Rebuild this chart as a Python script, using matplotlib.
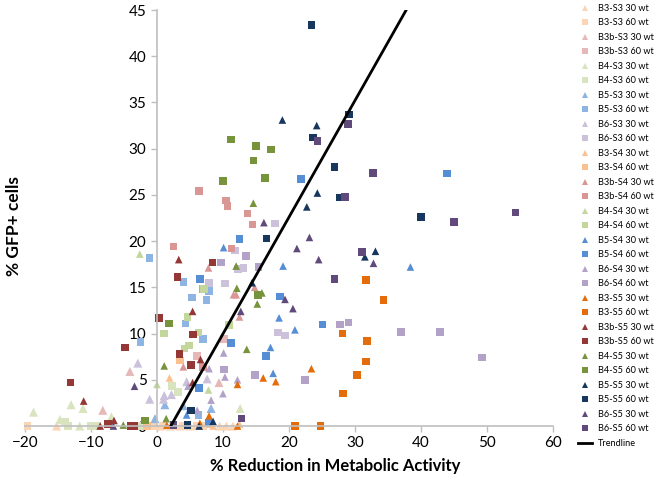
import matplotlib
matplotlib.use("Agg")
import matplotlib.pyplot as plt
from matplotlib.lines import Line2D

plt.rcParams['font.family'] = ['Lato', 'DejaVu Sans']

# (x = % reduction in metabolic activity, y = % GFP+ cells)
b3_s3_30 = [(-15.2, 0), (0.5, 0), (2.0, 0), (3.5, 0), (5.0, 0), (9.5, 0), (10.5, 0), (11.5, 0)]
b3_s3_60 = [(-19.6, 0), (-0.5, 0), (1.0, 0), (2.5, 0), (4.0, 0), (6.0, 0), (7.0, 0)]
b3b_s3_30 = [(-8.2, 1.7), (-4.1, 5.9), (9.4, 4.7)]
b3b_s3_60 = [(6.1, 7.6), (10.2, 9.4)]
b4_s3_30 = [(-18.7, 1.5), (-13.0, 2.3), (-11.2, 1.9), (-14.7, 0.7), (-11.7, 0), (-6.9, 1.0), (12.6, 1.9)]
b4_s3_60 = [(-13.9, 0.5), (-13.5, 0), (-10.0, 0), (-9.1, 0), (-2.6, 0), (2.3, 4.3), (3.2, 3.7)]
b5_s3_30 = [(1.2, 2.3), (-0.3, 0.8), (4.0, 2.2), (8.2, 1.9)]
b5_s3_60 = [(-1.1, 18.2), (4.0, 15.6), (6.9, 14.8), (7.9, 14.6), (5.3, 13.9), (7.5, 13.6),
            (4.3, 11.1), (7.0, 9.4), (-2.5, 9.1), (6.3, 1.2)]
b6_s3_30 = [(-2.9, 6.8), (1.1, 3.3), (1.0, 2.9), (2.2, 3.4), (4.5, 4.8), (7.6, 5.1), (-1.1, 2.9)]
b6_s3_60 = [(17.9, 21.9), (11.8, 19.0), (12.3, 17.0), (13.1, 17.1), (7.9, 15.5), (10.3, 15.4),
            (18.3, 10.1), (19.4, 9.8)]

b3_s4_30 = [(1.9, 5.2), (8.5, 0), (12.5, 0.2)]
b3_s4_60 = [(3.5, 7.1), (8.0, 0.2), (-1.5, 0)]
b3b_s4_30 = [(7.8, 17.1), (14.8, 15.0), (11.6, 14.2), (12.0, 14.2), (12.5, 11.8), (4.0, 6.4)]
b3b_s4_60 = [(6.4, 25.4), (10.5, 24.4), (10.7, 23.8), (13.7, 23.0), (14.5, 21.8), (2.5, 19.4),
             (11.3, 19.2), (7.0, 6.4)]
b4_s4_30 = [(-2.6, 18.6), (0.0, 4.5), (7.8, 3.9)]
b4_s4_60 = [(1.1, 10.0), (6.3, 10.1), (4.6, 11.8), (10.9, 10.9), (4.2, 8.4), (4.9, 8.7), (7.1, 14.8)]
b5_s4_30 = [(10.1, 19.3), (19.1, 17.3), (38.4, 17.2), (18.5, 11.7), (20.9, 10.4), (17.2, 8.5),
            (17.6, 5.7), (4.5, 1.2)]
b5_s4_60 = [(43.9, 27.3), (21.8, 26.7), (12.5, 20.2), (18.6, 14.0), (25.1, 11.0), (11.2, 9.0),
            (16.5, 7.6), (6.4, 4.1), (7.8, 0.4), (6.5, 15.9)]
b6_s4_30 = [(7.9, 6.2), (10.1, 7.9), (10.3, 5.3), (12.2, 5.0), (4.7, 4.3), (8.2, 2.8), (10.0, 3.5), (6.1, 1.7)]
b6_s4_60 = [(9.7, 17.7), (13.5, 18.4), (15.4, 17.2), (27.7, 11.0), (29.0, 11.2), (10.2, 6.1),
            (22.4, 5.0), (14.9, 5.5), (37.0, 10.2), (42.9, 10.2), (49.2, 7.4)]

b3_s5_30 = [(23.4, 6.2), (16.1, 5.2), (18.0, 4.8), (12.2, 4.5), (7.9, 1.1), (1.5, 0.1), (12.2, 0), (6.5, 0.3)]
b3_s5_60 = [(31.7, 15.8), (34.3, 13.6), (28.1, 10.0), (31.8, 9.2), (31.7, 7.0), (30.3, 5.5),
            (28.2, 3.5), (20.9, 0), (24.8, 0)]
b3b_s5_30 = [(3.3, 18.0), (5.4, 12.4), (6.6, 7.2), (5.4, 4.7), (-11.1, 2.7), (-8.6, 0), (-6.5, 0.6)]
b3b_s5_60 = [(0.35, 11.7), (8.4, 17.7), (3.1, 16.1), (5.5, 9.9), (3.4, 7.8), (5.2, 6.6),
             (-13.1, 4.7), (-4.8, 8.5), (-7.4, 0.2), (-3.9, 0), (-3.5, 0)]
b4_s5_30 = [(14.6, 24.1), (12.0, 17.3), (15.9, 14.4), (12.1, 14.9), (15.2, 13.2), (13.6, 8.3),
            (1.1, 6.5), (1.4, 0.8), (-5.1, 0.1)]
b4_s5_60 = [(11.2, 31.0), (15.0, 30.3), (17.3, 29.9), (14.6, 28.7), (16.4, 26.8), (10.0, 26.5),
            (1.8, 11.1), (-1.8, 0.6), (15.3, 14.2)]
b5_s5_30 = [(19.0, 33.1), (24.2, 32.5), (24.3, 25.2), (22.7, 23.7), (33.1, 18.9), (31.5, 18.3),
            (14.4, 15.5), (8.5, 0.5), (6.4, 0)]
b5_s5_60 = [(23.4, 43.4), (29.1, 33.7), (23.6, 31.2), (26.9, 28.0), (27.7, 24.7), (16.6, 20.3),
            (40.0, 22.6), (5.2, 1.7), (4.6, 0.1)]
b6_s5_30 = [(16.2, 22.0), (23.1, 20.4), (21.2, 19.2), (24.5, 18.0), (32.8, 17.6), (19.4, 13.7),
            (20.6, 12.7), (12.7, 12.4), (-3.4, 4.3), (-6.6, 0)]
b6_s5_60 = [(28.9, 32.7), (24.3, 30.8), (28.5, 24.8), (32.7, 27.4), (31.1, 18.8), (26.9, 15.9),
            (45.0, 22.1), (54.3, 23.1), (12.8, 0.8), (2.5, 0.1)]

# trendline y = slope * x + intercept
trend_slope = 1.262
trend_intercept = -2.65

# series: label, data, colour, marker
series = [
    ("B3-S3 30 wt", b3_s3_30, "#FCD5B5", "^"),
    ("B3-S3 60 wt", b3_s3_60, "#FCD5B5", "s"),
    ("B3b-S3 30 wt", b3b_s3_30, "#E6B9B8", "^"),
    ("B3b-S3 60 wt", b3b_s3_60, "#E6B9B8", "s"),
    ("B4-S3 30 wt", b4_s3_30, "#D7E4BD", "^"),
    ("B4-S3 60 wt", b4_s3_60, "#D7E4BD", "s"),
    ("B5-S3 30 wt", b5_s3_30, "#8EB4E3", "^"),
    ("B5-S3 60 wt", b5_s3_60, "#8EB4E3", "s"),
    ("B6-S3 30 wt", b6_s3_30, "#CCC1DA", "^"),
    ("B6-S3 60 wt", b6_s3_60, "#CCC1DA", "s"),
    ("B3-S4 30 wt", b3_s4_30, "#FAC090", "^"),
    ("B3-S4 60 wt", b3_s4_60, "#FAC090", "s"),
    ("B3b-S4 30 wt", b3b_s4_30, "#D99694", "^"),
    ("B3b-S4 60 wt", b3b_s4_60, "#D99694", "s"),
    ("B4-S4 30 wt", b4_s4_30, "#C3D69B", "^"),
    ("B4-S4 60 wt", b4_s4_60, "#C3D69B", "s"),
    ("B5-S4 30 wt", b5_s4_30, "#558ED5", "^"),
    ("B5-S4 60 wt", b5_s4_60, "#558ED5", "s"),
    ("B6-S4 30 wt", b6_s4_30, "#B3A2C7", "^"),
    ("B6-S4 60 wt", b6_s4_60, "#B3A2C7", "s"),
    ("B3-S5 30 wt", b3_s5_30, "#E46C0A", "^"),
    ("B3-S5 60 wt", b3_s5_60, "#E46C0A", "s"),
    ("B3b-S5 30 wt", b3b_s5_30, "#953735", "^"),
    ("B3b-S5 60 wt", b3b_s5_60, "#953735", "s"),
    ("B4-S5 30 wt", b4_s5_30, "#77933C", "^"),
    ("B4-S5 60 wt", b4_s5_60, "#77933C", "s"),
    ("B5-S5 30 wt", b5_s5_30, "#17375E", "^"),
    ("B5-S5 60 wt", b5_s5_60, "#17375E", "s"),
    ("B6-S5 30 wt", b6_s5_30, "#604A7B", "^"),
    ("B6-S5 60 wt", b6_s5_60, "#604A7B", "s"),
]

fig = plt.figure(figsize=(6.56, 4.88), dpi=100)
ax = fig.add_axes([0.038, 0.127, 0.805, 0.8525])

handles = []
for i, (label, pts, color, marker) in enumerate(series):
    xs = [p[0] for p in pts]
    ys = [p[1] for p in pts]
    light = i < 10
    size = 42 if (light and marker == "^") else 30
    ax.scatter(xs, ys, s=size, marker=marker, color=color, edgecolors="none",
               clip_on=False, zorder=2 + i * 0.01)
    handles.append(Line2D([], [], linestyle="none", marker=marker, color=color,
                          markersize=5, markeredgewidth=0, label=label))

ymin, ymax = 0, 45
x0 = (ymin - trend_intercept) / trend_slope
x1 = (ymax - trend_intercept) / trend_slope
ax.plot([x0, x1], [trend_slope * x0 + trend_intercept, trend_slope * x1 + trend_intercept],
        color="black", linewidth=2, zorder=5)
handles.append(Line2D([], [], color="black", linewidth=2, label="Trendline"))

ax.set_xlim(-20, 60)
ax.set_ylim(ymin, ymax)
ax.set_xticks(range(-20, 61, 10))
ax.set_yticks(range(0, 46, 5))

ax.spines["left"].set_position(("data", 0))
ax.spines["bottom"].set_position(("data", 0))
ax.spines["right"].set_visible(False)
ax.spines["top"].set_visible(False)
for s in ("left", "bottom"):
    ax.spines[s].set_color("#BFBFBF")
    ax.spines[s].set_linewidth(1.2)
ax.tick_params(colors="#BFBFBF", labelcolor="black", labelsize=11, length=4, width=1)
ax.tick_params(axis="x", pad=3)
ax.patch.set_alpha(0)

fig.text(0.511, 0.045, "% Reduction in Metabolic Activity", ha="center", va="center",
         fontsize=12, fontweight="bold")
fig.text(0.022, 0.537, "% GFP+ cells", ha="center", va="center", rotation=90,
         fontsize=12.5, fontweight="bold")

fig.legend(handles=handles, loc="upper left", bbox_to_anchor=(0.872, 1.005), frameon=False,
           fontsize=6.6, labelspacing=0.6, handlelength=1.5, handletextpad=0.6, borderpad=0.2)

fig.savefig("out.png", dpi=100)
